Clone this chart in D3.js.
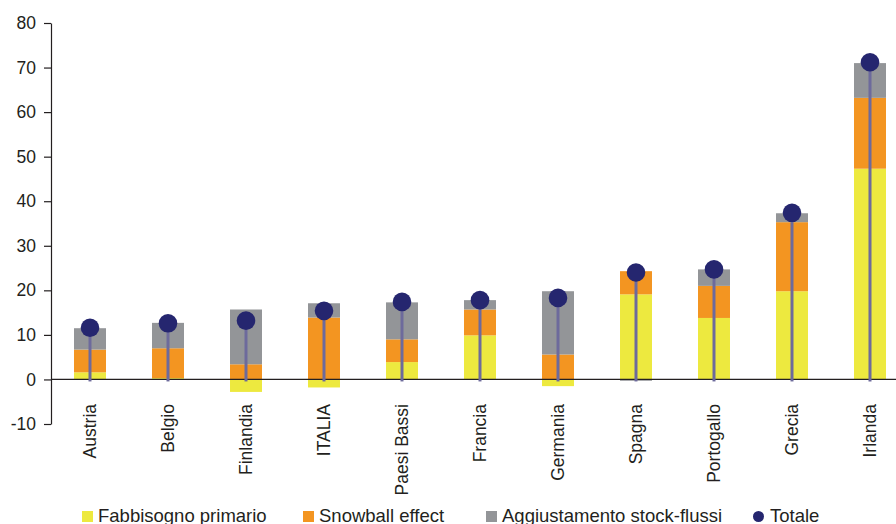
<!DOCTYPE html>
<html>
<head>
<meta charset="utf-8">
<script src="https://cdn.jsdelivr.net/npm/d3@7"></script>
<style>
  body { margin: 0; background: #fff; }
  svg { display: block; font-family: "Liberation Sans", Arial, sans-serif; }
  .axis text { font-size: 17.5px; fill: #231f20; }
  .axis path, .axis line { stroke: #231f20; stroke-width: 1.2; }
</style>
</head>
<body>
<svg id="chart" width="896" height="524"></svg>
<script>
// Chart values
var countries = ["Austria", "Belgio", "Finlandia", "ITALIA", "Paesi Bassi", "Francia",
  "Germania", "Spagna", "Portogallo", "Grecia", "Irlanda"];
var fabbisogno = [1.6, 0.3, -2.8, -1.8, 3.9, 9.9, -1.5, 19.1, 13.8, 19.8, 47.3];
var snowball = [5.1, 6.7, 3.4, 13.9, 5.1, 5.8, 5.6, 5.2, 7.2, 15.5, 15.9];
var aggiustamento = [4.8, 5.7, 12.3, 3.2, 8.3, 2.1, 14.2, -0.3, 3.7, 2.0, 7.8];
var totale = [11.6, 12.6, 13.2, 15.4, 17.4, 17.8, 18.3, 24.0, 24.7, 37.4, 71.2];
var yTicks = [-10, 0, 10, 20, 30, 40, 50, 60, 70, 80];
var seriesNames = ["Fabbisogno primario", "Snowball effect", "Aggiustamento stock-flussi"];
var seriesColors = ["#ede93f", "#f39521", "#939598"];

var svg = d3.select("#chart");

// Build rows for the stack from the arrays
var rows = countries.map(function(c, i) {
  return { paese: c, f: fabbisogno[i], s: snowball[i], a: aggiustamento[i], t: totale[i] };
});

var x = d3.scaleBand()
  .domain(countries)
  .range([51, 909])
  .paddingInner(0.59)
  .paddingOuter(0.295);

var y = d3.scaleLinear()
  .domain([-10, 80])
  .range([424, 23]);

var stacked = d3.stack()
  .keys(["f", "s", "a"])
  .offset(d3.stackOffsetDiverging)(rows);

// Stacked bars
svg.append("g").selectAll("g")
  .data(stacked)
  .enter().append("g")
  .attr("fill", function(d, i) { return seriesColors[i]; })
  .selectAll("rect")
  .data(function(d) { return d; })
  .enter().append("rect")
  .attr("x", function(d) { return x(d.data.paese); })
  .attr("width", x.bandwidth())
  .attr("y", function(d) { return y(Math.max(d[0], d[1])); })
  .attr("height", function(d) { return Math.abs(y(d[0]) - y(d[1])); });

// Y axis (plain hyphen for negatives, like the original)
svg.append("g")
  .attr("class", "axis")
  .attr("transform", "translate(51,0)")
  .call(d3.axisLeft(y).tickValues(yTicks).tickFormat(function(d) { return String(d); })
    .tickSize(7).tickSizeOuter(0).tickPadding(8));

// Zero line across the chart
svg.append("line")
  .attr("x1", 51).attr("x2", 896)
  .attr("y1", y(0)).attr("y2", y(0))
  .attr("stroke", "#231f20")
  .attr("stroke-width", 1.3);

// Lollipop stems and dots for the total
var cx = function(d) { return x(d.paese) + x.bandwidth() / 2; };

svg.append("g").selectAll("line")
  .data(rows)
  .enter().append("line")
  .attr("x1", cx).attr("x2", cx)
  .attr("y1", y(0) + 2)
  .attr("y2", function(d) { return y(d.t); })
  .attr("stroke", "#6d6a9c")
  .attr("stroke-width", 3);

svg.append("g").selectAll("circle")
  .data(rows)
  .enter().append("circle")
  .attr("cx", cx)
  .attr("cy", function(d) { return y(d.t); })
  .attr("r", 9.3)
  .attr("fill", "#25266f");

// Country labels, rotated
svg.append("g").selectAll("text")
  .data(rows)
  .enter().append("text")
  .attr("transform", function(d) { return "translate(" + (cx(d) + 5.5) + ",404) rotate(-90)"; })
  .attr("text-anchor", "end")
  .style("font-size", "17.5px")
  .style("fill", "#231f20")
  .text(function(d) { return d.paese; });

// Legend
var legendX = [82, 303, 486];
var legend = svg.append("g");
seriesNames.forEach(function(name, i) {
  legend.append("rect")
    .attr("x", legendX[i]).attr("y", 511)
    .attr("width", 11).attr("height", 11)
    .attr("fill", seriesColors[i]);
  legend.append("text")
    .attr("x", legendX[i] + 16).attr("y", 522)
    .style("font-size", "18.5px")
    .style("fill", "#231f20")
    .text(name);
});
legend.append("circle")
  .attr("cx", 758.5).attr("cy", 516.5).attr("r", 5.5)
  .attr("fill", "#25266f");
legend.append("text")
  .attr("x", 770).attr("y", 522)
  .style("font-size", "18.5px")
  .style("fill", "#231f20")
  .text("Totale");
</script>
</body>
</html>
